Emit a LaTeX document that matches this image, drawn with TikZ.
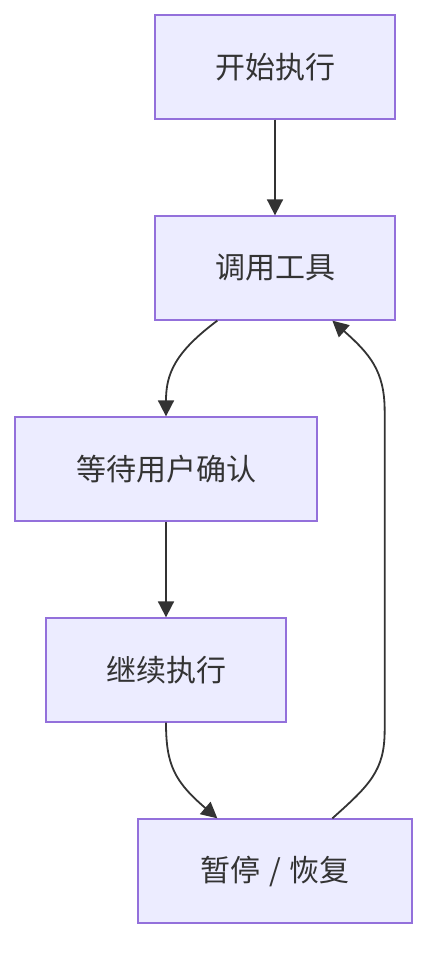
\documentclass[tikz,border=0pt]{standalone}
\usepackage{fontspec}
\setmainfont{Noto Sans CJK SC}
\usetikzlibrary{arrows.meta,positioning,calc}
\definecolor{flowFill}{HTML}{ECECFF}
\definecolor{flowBorder}{HTML}{9370DB}
\definecolor{flowInk}{HTML}{333333}
\tikzset{
  flow node/.style={draw=flowBorder,fill=flowFill,line width=1.3pt,text=flowInk,font=\fontsize{30}{36}\selectfont,minimum height=104pt,inner sep=0pt},
  flow arrow/.style={-{Triangle[length=16pt,width=16pt]},line width=1.8pt,draw=flowInk}
}
\begin{document}
\begin{tikzpicture}[x=1pt,y=-1pt]
        \useasboundingbox (0,0) rectangle (444,972);
        \node[flow node,minimum width=240pt] (start) at (275,67) {开始执行};
        \node[flow node,minimum width=240pt] (call) at (275,268) {调用工具};
        \node[flow node,minimum width=302pt] (confirm) at (166,469) {等待用户确认};
        \node[flow node,minimum width=240pt] (resume) at (166,670) {继续执行};
        \node[flow node,minimum width=274pt] (pause) at (275,871) {暂停\hspace{9pt}/\hspace{9pt}恢复};
        \draw[flow arrow] (start) -- (call);
        \draw[flow arrow] ([xshift=63pt]call.south west) .. controls +(-43,32) and +(0,-42) .. (confirm.north);
        \draw[flow arrow] (confirm) -- (resume);
        \draw[flow arrow] (resume.south) .. controls +(0,42) and +(-43,-37) .. ([xshift=80pt]pause.north west);
        \draw[flow arrow] ([xshift=195pt]pause.north west) .. controls +(37,-33) and +(0,40) .. ($(call.south east)+(-11,410)$) -- ($(call.south east)+(-11,90)$) .. controls +(0,-40) and +(37,33) .. ([xshift=178pt]call.south west);
      \end{tikzpicture}
\end{document}
